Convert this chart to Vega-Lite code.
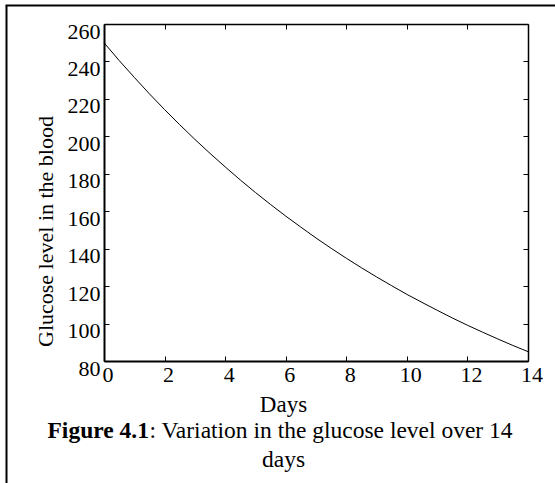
{
  "$schema": "https://vega.github.io/schema/vega-lite/v6.json",
  "width": 424,
  "height": 337,
  "autosize": {"type": "none"},
  "padding": {"left": 104, "top": 24, "right": 27, "bottom": 122},
  "background": "white",
  "config": {
    "font": "Liberation Serif",
    "view": {"stroke": null},
    "axis": {"grid": false, "domainColor": "black", "tickColor": "black", "labelColor": "black", "titleColor": "black", "titleFontWeight": "normal", "labelFont": "Liberation Serif", "titleFont": "Liberation Serif"}
  },
  "data": {
    "values": [
      {"day": 0, "glucose": 250},
      {"day": 0.5, "glucose": 240.5},
      {"day": 1, "glucose": 231.5},
      {"day": 1.5, "glucose": 222.7},
      {"day": 2, "glucose": 214.3},
      {"day": 2.5, "glucose": 206.2},
      {"day": 3, "glucose": 198.4},
      {"day": 3.5, "glucose": 190.9},
      {"day": 4, "glucose": 183.7},
      {"day": 4.5, "glucose": 176.7},
      {"day": 5, "glucose": 170.0},
      {"day": 5.5, "glucose": 163.6},
      {"day": 6, "glucose": 157.4},
      {"day": 6.5, "glucose": 151.5},
      {"day": 7, "glucose": 145.7},
      {"day": 7.5, "glucose": 140.2},
      {"day": 8, "glucose": 134.9},
      {"day": 8.5, "glucose": 129.8},
      {"day": 9, "glucose": 124.9},
      {"day": 9.5, "glucose": 120.2},
      {"day": 10, "glucose": 115.6},
      {"day": 10.5, "glucose": 111.3},
      {"day": 11, "glucose": 107.1},
      {"day": 11.5, "glucose": 103.0},
      {"day": 12, "glucose": 99.1},
      {"day": 12.5, "glucose": 95.4},
      {"day": 13, "glucose": 91.8},
      {"day": 13.5, "glucose": 88.3},
      {"day": 14, "glucose": 85.0}
    ]
  },
  "resolve": {
    "scale": {"x": "independent", "y": "independent"},
    "axis": {"x": "independent", "y": "independent"}
  },
  "layer": [
    {
      "mark": {"type": "line", "color": "black", "strokeWidth": 1},
      "encoding": {
        "x": {
          "field": "day", "type": "quantitative",
          "scale": {"domain": [0, 14], "nice": false, "zero": false},
          "axis": {
            "orient": "bottom", "values": [0, 2, 4, 6, 8, 10, 12, 14],
            "tickSize": -5, "domainWidth": 2, "labelFontSize": 22, "labelOffset": 3.5, "labelPadding": 8,
            "labelFlush": false,
            "title": "Days", "titleFontSize": 23, "titleX": 179, "titleY": 50, "titleAlign": "center", "titleBaseline": "alphabetic"
          }
        },
        "y": {
          "field": "glucose", "type": "quantitative",
          "scale": {"domain": [80, 260], "nice": false, "zero": false},
          "axis": {
            "orient": "left", "values": [80, 100, 120, 140, 160, 180, 200, 220, 240, 260],
            "tickSize": -5, "domainWidth": 2, "labelFontSize": 22, "labelOffset": 7, "labelPadding": 9,
            "labelFlush": false,
            "title": "Glucose level in the blood", "titleFontSize": 22, "titleX": -59, "titleY": 207, "titleAngle": -90, "titleAlign": "center", "titleBaseline": "middle"
          }
        }
      }
    },
    {
      "mark": {"type": "point", "opacity": 0},
      "encoding": {
        "x": {
          "field": "day", "type": "quantitative",
          "scale": {"domain": [0, 14], "nice": false, "zero": false},
          "axis": {"orient": "top", "values": [0, 2, 4, 6, 8, 10, 12, 14], "tickSize": -5, "domainWidth": 1.5, "labels": false, "title": null}
        },
        "y": {
          "field": "glucose", "type": "quantitative",
          "scale": {"domain": [80, 260], "nice": false, "zero": false},
          "axis": {"orient": "right", "values": [80, 100, 120, 140, 160, 180, 200, 220, 240, 260], "tickSize": -5, "domainWidth": 1.5, "labels": false, "title": null}
        }
      }
    },
    {
      "mark": {"type": "point", "opacity": 0},
      "encoding": {
        "x": {
          "field": "day", "type": "quantitative",
          "scale": {"domain": [0, 14], "nice": false, "zero": false},
          "axis": {"orient": "bottom", "domain": false, "ticks": false, "labels": false,
            "title": "Figure 4.1", "titleFontSize": 23.5, "titleFontWeight": "bold", "titleX": -57, "titleY": 76, "titleAlign": "left", "titleBaseline": "alphabetic"}
        },
        "y": {
          "field": "glucose", "type": "quantitative",
          "scale": {"domain": [80, 260], "nice": false, "zero": false, "range": [459, -19]},
          "axis": {"orient": "left", "offset": 98, "domainWidth": 2, "ticks": false, "labels": false, "title": null}
        }
      }
    },
    {
      "mark": {"type": "point", "opacity": 0},
      "encoding": {
        "x": {
          "field": "day", "type": "quantitative",
          "scale": {"domain": [0, 14], "nice": false, "zero": false},
          "axis": {"orient": "bottom", "domain": false, "ticks": false, "labels": false,
            "title": ": Variation in the glucose level over 14", "titleFontSize": 23.5, "titleX": 45, "titleY": 76, "titleAlign": "left", "titleBaseline": "alphabetic"}
        },
        "y": {
          "field": "glucose", "type": "quantitative",
          "scale": {"domain": [80, 260], "nice": false, "zero": false},
          "axis": null
        }
      }
    },
    {
      "mark": {"type": "point", "opacity": 0},
      "encoding": {
        "x": {
          "field": "day", "type": "quantitative",
          "scale": {"domain": [0, 14], "nice": false, "zero": false},
          "axis": {"orient": "bottom", "domain": false, "ticks": false, "labels": false,
            "title": "days", "titleFontSize": 23.5, "titleX": 179, "titleY": 105, "titleAlign": "center", "titleBaseline": "alphabetic"}
        },
        "y": {
          "field": "glucose", "type": "quantitative",
          "scale": {"domain": [80, 260], "nice": false, "zero": false},
          "axis": null
        }
      }
    },
    {
      "mark": {"type": "point", "opacity": 0},
      "encoding": {
        "x": {
          "field": "day", "type": "quantitative",
          "scale": {"domain": [0, 14], "nice": false, "zero": false, "range": [-99, 451]},
          "axis": {"orient": "top", "offset": 19, "domainWidth": 2, "ticks": false, "labels": false, "title": null}
        },
        "y": {
          "field": "glucose", "type": "quantitative",
          "scale": {"domain": [80, 260], "nice": false, "zero": false},
          "axis": null
        }
      }
    }
  ]
}
